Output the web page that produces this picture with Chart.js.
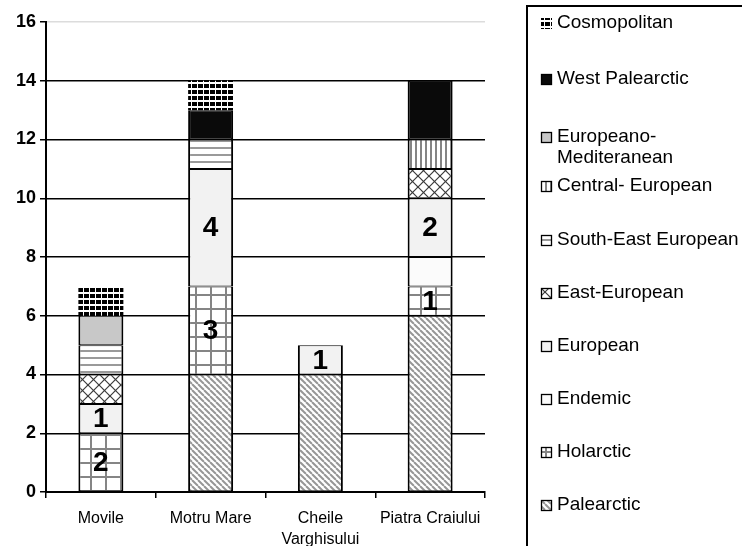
<!DOCTYPE html>
<html>
<head>
<meta charset="utf-8">
<script src="https://cdn.jsdelivr.net/npm/chart.js@4.4.0/dist/chart.umd.min.js"></script>
<style>
html,body{margin:0;padding:0;background:#fff;}
#wrap{width:742px;height:546px;position:relative;}
</style>
</head>
<body>
<div id="wrap"><canvas id="c" width="742" height="546"></canvas></div>
<script>
// ---- data ----
const categories = ['Movile', 'Motru Mare', ['Cheile', 'Varghisului'], 'Piatra Craiului'];
const palearctic            = [0, 4, 4, 6];
const holarctic             = [2, 3, 0, 1];
const endemic               = [0, 0, 0, 1];
const european              = [1, 4, 1, 2];
const eastEuropean          = [1, 0, 0, 1];
const southEastEuropean     = [1, 1, 0, 0];
const centralEuropean       = [0, 0, 0, 1];
const europeanoMediteranean = [1, 0, 0, 0];
const westPalearctic        = [0, 1, 0, 2];
const cosmopolitan          = [1, 1, 0, 0];
const yTicks = [0, 2, 4, 6, 8, 10, 12, 14, 16];
const labelledSeries = ['Holarctic', 'European'];

const FONT = "'Liberation Sans', Arial, Helvetica, sans-serif";

// ---- fill patterns ----
function tile(w, h, draw) {
  const c = document.createElement('canvas');
  c.width = w; c.height = h;
  const g = c.getContext('2d');
  g.fillStyle = '#fff'; g.fillRect(0, 0, w, h);
  draw(g, w, h);
  return document.createElement('canvas').getContext('2d').createPattern(c, 'repeat');
}
const fills = {
  diag: tile(6, 6, (g) => {
    g.strokeStyle = '#969696'; g.lineWidth = 2;
    for (const k of [-6, 0, 6]) { g.beginPath(); g.moveTo(k, 0); g.lineTo(k + 6, 6); g.stroke(); }
  }),
  grid: tile(15, 14, (g) => {
    g.fillStyle = '#858585'; g.fillRect(0, 0, 15, 2); g.fillRect(0, 0, 2, 14);
  }),
  cross: tile(11, 11, (g) => {
    g.strokeStyle = '#3a3a3a'; g.lineWidth = 1.2;
    for (const k of [-11, 0, 11]) {
      g.beginPath(); g.moveTo(k, 0); g.lineTo(k + 11, 11); g.stroke();
      g.beginPath(); g.moveTo(k + 11, 0); g.lineTo(k, 11); g.stroke();
    }
  }),
  hlines: tile(4, 7, (g) => { g.fillStyle = '#9a9a9a'; g.fillRect(0, 0, 4, 2); }),
  vlines: tile(5, 4, (g) => { g.fillStyle = '#858585'; g.fillRect(0, 0, 2, 4); }),
  checks: tile(6, 6, (g) => { g.fillStyle = '#000'; g.fillRect(0, 0, 5, 4); })
};

const series = [
  { label: 'Palearctic', data: palearctic, fill: fills.diag },
  { label: 'Holarctic', data: holarctic, fill: fills.grid },
  { label: 'Endemic', data: endemic, fill: '#fbfbfb' },
  { label: 'European', data: european, fill: '#f2f2f2' },
  { label: 'East-European', data: eastEuropean, fill: fills.cross },
  { label: 'South-East European', data: southEastEuropean, fill: fills.hlines },
  { label: 'Central- European', data: centralEuropean, fill: fills.vlines },
  { label: 'Europeano-Mediteranean', data: europeanoMediteranean, fill: '#c8c8c8' },
  { label: 'West Palearctic', data: westPalearctic, fill: '#0a0a0a' },
  { label: 'Cosmopolitan', data: cosmopolitan, fill: fills.checks, noBorder: true }
];

const datasets = series.map(s => ({
  label: s.label,
  data: s.data.map(v => v === 0 ? null : v),
  backgroundColor: s.fill,
  borderColor: '#000',
  borderWidth: s.noBorder ? 0 : { top: 1, bottom: 1, left: 2, right: 2 },
  borderSkipped: false,
  categoryPercentage: 1.0,
  barPercentage: 0.41,
  noBorder: !!s.noBorder
}));

// ---- plugins ----
const valueLabels = {
  id: 'valueLabels',
  afterDatasetsDraw(chart) {
    const ctx = chart.ctx;
    ctx.save();
    ctx.font = 'bold 28px ' + FONT;
    ctx.fillStyle = '#000';
    ctx.textAlign = 'center';
    ctx.textBaseline = 'middle';
    chart.data.datasets.forEach((ds, i) => {
      if (!labelledSeries.includes(ds.label)) return;
      chart.getDatasetMeta(i).data.forEach((el, j) => {
        const v = ds.data[j];
        if (!v) return;
        ctx.fillText(String(v), el.x, (el.y + el.base) / 2 + 1);
      });
    });
    ctx.restore();
  }
};

const LEGEND_Y = [23, 79, 137, 186, 240, 293, 346, 399, 452, 505];
const sideLegend = {
  id: 'sideLegend',
  afterDraw(chart) {
    const ctx = chart.ctx;
    ctx.save();
    ctx.strokeStyle = '#000';
    ctx.lineWidth = 2;
    ctx.strokeRect(527, 6, 400, 600);
    ctx.font = '19px ' + FONT;
    ctx.textBaseline = 'middle';
    const items = chart.data.datasets.slice().reverse();
    items.forEach((ds, i) => {
      const y = LEGEND_Y[i];
      const ix = 541, iy = y - 5, sz = 11;
      ctx.save();
      ctx.translate(ix + 4, iy + 4);
      ctx.fillStyle = ds.backgroundColor;
      ctx.fillRect(-4, -4, sz, sz);
      ctx.restore();
      if (!ds.noBorder) {
        ctx.strokeStyle = '#000'; ctx.lineWidth = 1.3;
        ctx.strokeRect(ix + 0.5, iy + 0.5, sz - 1, sz - 1);
      }
      ctx.fillStyle = '#000';
      let lines = [ds.label];
      if (ctx.measureText(ds.label).width > 190 && ds.label.includes('-')) {
        const k = ds.label.indexOf('-') + 1;
        lines = [ds.label.slice(0, k), ds.label.slice(k)];
      }
      lines.forEach((t, j) => ctx.fillText(t, 557, y + j * 21));
    });
    ctx.restore();
  }
};

new Chart(document.getElementById('c'), {
  type: 'bar',
  data: { labels: categories, datasets },
  plugins: [valueLabels, sideLegend],
  options: {
    responsive: false,
    animation: false,
    layout: { padding: { top: 22, right: 257, left: 0, bottom: 0 } },
    plugins: { legend: { display: false }, tooltip: { enabled: false } },
    scales: {
      x: {
        stacked: true,
        grid: { display: true, drawOnChartArea: false, drawTicks: true, tickLength: 6, color: '#000', lineWidth: 1.5, offset: true },
        border: { display: true, color: '#000', width: 2 },
        ticks: { color: '#000', font: { family: FONT, size: 16, lineHeight: 1.3 }, padding: 10, maxRotation: 0, autoSkip: false },
        afterFit(s) { s.height = 54; }
      },
      y: {
        stacked: true,
        min: 0, max: 16,
        afterBuildTicks(s) { s.ticks = yTicks.map(v => ({ value: v })); },
        ticks: { color: '#000', font: { family: FONT, size: 18, weight: 'bold' }, padding: 4 },
        grid: { color: (c) => (c.tick && c.tick.value === 16) ? '#dcdcdc' : '#000', tickColor: '#000', lineWidth: 1.5, tickLength: 6, drawTicks: true },
        border: { display: true, color: '#000', width: 2 },
        afterFit(s) { s.width = 46; }
      }
    }
  }
});
</script>
</body>
</html>
